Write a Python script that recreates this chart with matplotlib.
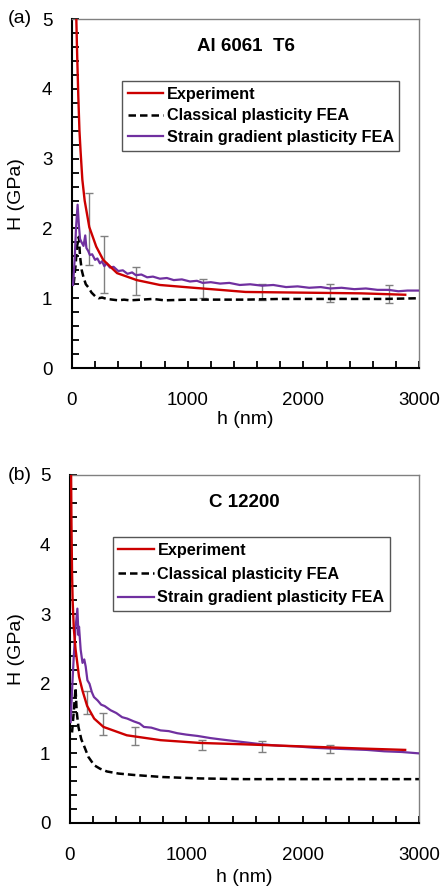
import matplotlib
matplotlib.use("Agg")
import matplotlib.pyplot as plt
import numpy as np
from matplotlib.ticker import MultipleLocator

plt.rcParams['font.family'] = ['Liberation Sans', 'DejaVu Sans']

# ---- panel (a) Al 6061 T6 ----
exp_h_a = [38, 45, 55, 65, 75, 90, 110, 150, 210, 270, 390, 560, 760, 1050, 1280, 1500, 2000, 2500, 2880]
exp_H_a = [5.0, 4.5, 3.9, 3.4, 3.1, 2.7, 2.4, 2.02, 1.74, 1.55, 1.36, 1.26, 1.19, 1.15, 1.12, 1.09, 1.08, 1.07, 1.05]

cls_h_a = [15, 30, 45, 60, 70, 85, 100, 120, 140, 170, 200, 230, 260, 300, 350, 400, 450, 500, 600,
           700, 800, 1000, 1200, 1500, 1800, 2100, 2400, 2700, 3000]
cls_H_a = [1.2, 1.45, 1.75, 1.88, 1.6, 1.4, 1.3, 1.2, 1.16, 1.08, 1.03, 1.0, 1.01, 0.99, 0.98, 0.97, 0.98, 0.97, 0.98,
           0.99, 0.97, 0.98, 0.98, 0.98, 0.99, 0.99, 0.99, 0.99, 1.0]

sg_h_a = [10, 25, 35, 49, 60, 70, 84, 100, 115, 125, 140, 155, 175, 200, 220, 242, 260, 280, 300, 328,
          360, 400, 440, 480, 520, 553, 600, 650, 700, 760, 820, 880, 950, 1020, 1080, 1130, 1200, 1280,
          1360, 1450, 1540, 1643, 1740, 1850, 1950, 2050, 2150, 2230, 2330, 2440, 2540, 2640, 2737, 2820,
          2900, 3000]
sg_H_a = [1.19, 1.6, 2.0, 2.34, 2.05, 1.85, 1.80, 1.75, 1.90, 1.72, 1.68, 1.62, 1.63, 1.55, 1.57, 1.50, 1.53,
          1.46, 1.50, 1.44, 1.45, 1.39, 1.40, 1.35, 1.37, 1.33, 1.34, 1.30, 1.31, 1.28, 1.29, 1.26, 1.27, 1.24,
          1.25, 1.22, 1.23, 1.21, 1.22, 1.19, 1.20, 1.18, 1.19, 1.16, 1.17, 1.15, 1.16, 1.14, 1.15, 1.13, 1.14,
          1.12, 1.12, 1.10, 1.11, 1.11]

err_h_a = [150, 280, 550, 1130, 1640, 2230, 2740]
err_lo_a = [1.48, 1.08, 1.05, 1.01, 0.98, 0.94, 0.93]
err_hi_a = [2.51, 1.89, 1.45, 1.27, 1.20, 1.20, 1.19]

# ---- panel (b) C 12200 ----
exp_h_b = [12, 15, 20, 25, 35, 50, 80, 110, 150, 210, 290, 490, 780, 1120, 1500, 2000, 2500, 2880]
exp_H_b = [5.0, 4.3, 3.6, 3.2, 2.8, 2.5, 2.1, 1.9, 1.68, 1.5, 1.38, 1.26, 1.19, 1.15, 1.13, 1.10, 1.07, 1.05]

cls_h_b = [20, 35, 50, 60, 75, 100, 125, 160, 210, 260, 320, 420, 550, 800, 1120, 1500, 2000, 2500, 3000]
cls_H_b = [1.3, 1.6, 1.94, 1.6, 1.38, 1.2, 1.1, 0.95, 0.83, 0.78, 0.74, 0.71, 0.69, 0.66, 0.64, 0.63, 0.63, 0.63, 0.63]

sg_h_b = [8, 20, 35, 50, 66, 75, 80, 94, 110, 125, 137, 152, 170, 190, 208, 240, 270, 300, 351, 400, 450,
          494, 550, 600, 637, 700, 780, 850, 923, 1000, 1100, 1208, 1300, 1400, 1500, 1651, 1800, 1950,
          2100, 2237, 2400, 2550, 2700, 2850, 3000]
sg_H_b = [1.45, 1.9, 2.4, 2.8, 3.08, 2.7, 2.82, 2.49, 2.3, 2.35, 2.25, 2.05, 2.0, 1.88, 1.81, 1.76, 1.70,
          1.68, 1.62, 1.58, 1.52, 1.50, 1.46, 1.43, 1.38, 1.37, 1.33, 1.32, 1.29, 1.27, 1.25, 1.22, 1.20,
          1.18, 1.16, 1.13, 1.11, 1.10, 1.08, 1.07, 1.06, 1.05, 1.03, 1.02, 1.00]

err_h_b = [146, 289, 563, 1140, 1651, 2237]
err_lo_b = [1.57, 1.26, 1.12, 1.05, 1.02, 1.00]
err_hi_b = [1.90, 1.58, 1.38, 1.19, 1.18, 1.12]

RED = '#cc0000'
PURPLE = '#7030a0'

fig = plt.figure(figsize=(4.44, 8.90), dpi=100)
ax_a = fig.add_axes([0.162, 0.5865, 0.782, 0.392])
ax_b = fig.add_axes([0.157, 0.0753, 0.787, 0.391])


def draw_panel(ax, eh, eH, ch, cH, sh, sH, erh, erlo, erhi, title, leg_anchor, leg_spacing):
    lo = np.array(erlo)
    hi = np.array(erhi)
    ax.errorbar(erh, (lo + hi) / 2, yerr=(hi - lo) / 2, fmt='none', ecolor='#808080',
                elinewidth=1, capsize=3, capthick=1, zorder=1)
    l2, = ax.plot(ch, cH, color='black', linestyle='--', linewidth=1.8, dashes=(3, 1.6), zorder=2)
    l3, = ax.plot(sh, sH, color=PURPLE, linewidth=1.6, zorder=3)
    l1, = ax.plot(eh, eH, color=RED, linewidth=1.7, zorder=4)

    ax.set_xlim(0, 3000)
    ax.set_ylim(0, 5)
    ax.xaxis.set_major_locator(MultipleLocator(1000))
    ax.xaxis.set_minor_locator(MultipleLocator(200))
    ax.yaxis.set_major_locator(MultipleLocator(1))
    ax.yaxis.set_minor_locator(MultipleLocator(0.2))
    ax.tick_params(which='both', direction='in', top=False, right=False, width=1.3, color='black')
    ax.tick_params(which='major', length=5)
    ax.tick_params(which='minor', length=5)
    ax.tick_params(axis='x', which='major', labelsize=13.5, pad=17)
    ax.tick_params(axis='y', which='major', labelsize=13.5, pad=14)
    for s in ['left', 'bottom']:
        ax.spines[s].set_color('black')
        ax.spines[s].set_linewidth(1.5)
    for s in ['top', 'right']:
        ax.spines[s].set_color('#808080')
        ax.spines[s].set_linewidth(1.0)

    ax.set_xlabel('h (nm)', fontsize=14)
    ax.set_ylabel('H (GPa)', fontsize=14)
    ax.text(0.5, 0.922, title, transform=ax.transAxes, ha='center', va='center',
            fontsize=13.5, fontweight='bold')

    leg = ax.legend([l1, l2, l3],
                    ['Experiment', 'Classical plasticity FEA', 'Strain gradient plasticity FEA'],
                    loc='upper left', bbox_to_anchor=leg_anchor, borderaxespad=0,
                    fancybox=False, framealpha=1, edgecolor='#555555',
                    prop={'size': 11.7, 'weight': 'bold'}, handlelength=2.2, handletextpad=0.2,
                    labelspacing=leg_spacing, borderpad=0.35)
    leg.get_frame().set_linewidth(1.0)


draw_panel(ax_a, exp_h_a, exp_H_a, cls_h_a, cls_H_a, sg_h_a, sg_H_a,
           err_h_a, err_lo_a, err_hi_a, 'Al 6061  T6', (0.144, 0.822), 0.4)
ax_a.xaxis.set_label_coords(0.5, -0.123)
ax_a.yaxis.set_label_coords(-0.135, 0.5)

draw_panel(ax_b, exp_h_b, exp_H_b, cls_h_b, cls_H_b, sg_h_b, sg_H_b,
           err_h_b, err_lo_b, err_hi_b, 'C 12200', (0.123, 0.822), 0.55)
ax_b.xaxis.set_label_coords(0.5, -0.132)
ax_b.yaxis.set_label_coords(-0.129, 0.5)

fig.text(0.018, 0.979, '(a)', fontsize=14, ha='left', va='center')
fig.text(0.018, 0.466, '(b)', fontsize=14, ha='left', va='center')

fig.savefig('out.png', dpi=100)
